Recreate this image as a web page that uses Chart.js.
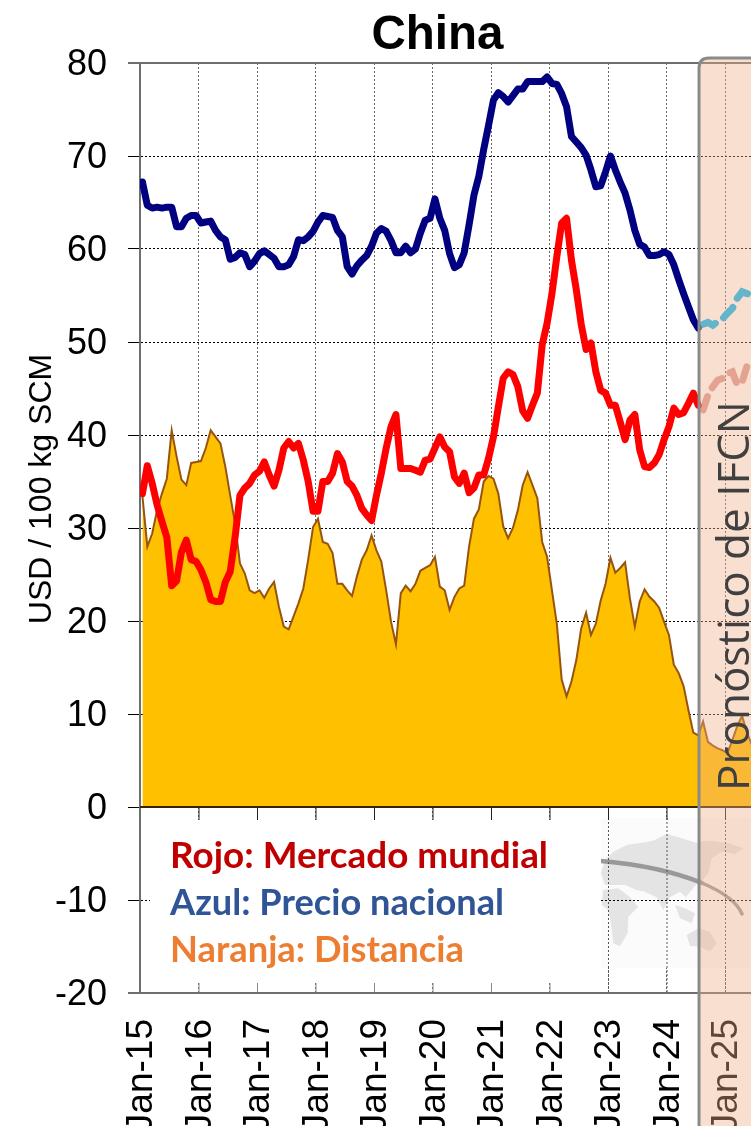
<!DOCTYPE html>
<html><head><meta charset="utf-8">
<style>html,body{margin:0;padding:0;background:#fff;overflow:hidden}canvas{display:block}</style>
<script src="https://cdn.jsdelivr.net/npm/chart.js@4"></script>
</head><body><canvas id="c" width="751" height="1126"></canvas>
<script>
const tickLabels=['Jan-15','Jan-16','Jan-17','Jan-18','Jan-19','Jan-20','Jan-21','Jan-22','Jan-23','Jan-24','Jan-25'];
const nationalPrice=[67.2,64.7,64.4,64.5,64.4,64.5,64.5,62.4,62.4,63.3,63.6,63.6,62.8,62.9,63.0,62.0,61.3,61.0,58.9,59.1,59.6,59.4,58.1,58.7,59.5,59.8,59.4,59.0,58.1,58.1,58.3,59.2,61.0,60.9,61.3,61.9,62.9,63.6,63.5,63.4,62.0,61.3,58.1,57.3,58.2,58.8,59.3,60.3,61.7,62.2,61.9,60.9,59.6,59.6,60.3,59.6,60.0,61.7,63.1,63.3,65.4,63.3,62.0,59.5,58.0,58.3,59.6,62.6,65.8,67.8,70.7,73.3,76.0,76.8,76.4,75.8,76.5,77.2,77.2,78.0,78.0,78.0,78.0,78.5,77.8,77.7,76.7,75.3,72.1,71.5,70.9,70.1,68.5,66.7,66.8,68.3,70.0,68.5,67.2,66.0,64.2,62.0,60.5,60.2,59.3,59.3,59.4,59.7,59.4,58.3,56.7,55.2,53.8,52.4,51.5];
const nationalForecast=[51.9,52.1,51.8,52.2,52.5,53.1,53.6,54.7,55.4,55.2,55.0];
const worldMarket=[33.7,36.7,34.8,32.5,30.7,29.0,23.8,24.3,27.4,28.7,26.6,26.4,25.5,24.2,22.3,22.1,22.1,24.2,25.3,29.0,33.5,34.3,34.8,35.7,36.1,37.1,35.7,34.5,36.2,38.6,39.3,38.6,39.1,37.3,35.0,31.8,31.8,35.0,35.0,35.9,38.0,37.1,35.0,34.5,33.5,32.1,31.4,30.8,33.5,35.9,38.6,40.9,42.2,36.4,36.4,36.4,36.2,36.0,37.3,37.4,38.6,39.8,38.7,38.2,35.5,34.8,35.9,33.8,34.3,35.7,35.7,37.5,39.8,43.0,46.1,46.8,46.5,45.2,42.6,41.8,43.2,44.5,49.7,52.0,55.2,59.2,62.8,63.3,58.8,55.6,51.9,49.2,49.9,46.8,44.8,44.5,43.2,43.2,41.4,39.5,41.6,42.2,38.4,36.6,36.5,37.0,37.9,39.5,40.9,42.9,42.2,42.4,43.4,44.5,43.2];
const worldForecast=[42.7,44.3,45.2,45.9,46.1,46.6,46.8,45.4,45.7,47.4,48.2];
const distance=[33.4,28.0,29.4,31.9,33.7,35.3,40.5,37.7,35.2,34.6,37.0,37.1,37.2,38.6,40.5,39.8,39.1,36.6,33.5,30.5,26.2,25.1,23.3,23.0,23.3,22.5,23.5,24.2,21.5,19.4,19.1,20.5,21.9,23.5,26.6,30.1,31.0,28.5,28.3,27.3,24.0,24.0,23.3,22.7,24.8,26.6,27.6,29.2,27.6,26.4,23.3,19.9,17.5,23.0,23.8,23.2,24.0,25.4,25.7,26.0,26.9,23.7,23.3,21.2,22.6,23.5,23.8,28.0,31.0,32.0,35.0,35.6,35.3,33.7,30.2,28.9,30.0,31.9,34.6,36.0,34.6,33.2,28.5,26.9,23.3,19.7,13.7,11.9,13.5,15.8,19.2,20.9,18.5,19.7,22.2,24.0,26.8,25.2,25.7,26.3,22.4,19.4,22.1,23.4,22.6,22.1,21.4,19.9,18.5,15.3,14.4,13.0,10.4,8.0,7.7,9.2,7.0,6.6,6.3,6.1,5.8,7.2,8.7,9.8,8.0,6.7];
const legendLines=[['Rojo: Mercado mundial','#C00000',378],['Azul: Precio nacional','#2F5597',334],['Naranja: Distancia','#ED7D31',294]];
const panelText='Pronóstico de IFCN';
const yAxisTitle='USD / 100 kg SCM';
const panelStart=114.67;

const pts=(a,start=0)=>a.map((v,i)=>({x:start+i+0.5,y:v}));

// outline shapes of the faint world map backdrop, relative to its box
const continents=[
 [[18,190],[30,150],[55,125],[95,105],[130,100],[175,92],[215,72],[260,85],[310,100],[310,215],[290,240],[272,262],[255,245],[225,262],[205,300],[185,262],[150,245],[125,240],[90,225],[60,225],[30,225]],
 [[25,240],[70,235],[105,262],[130,290],[100,320],[98,370],[75,408],[55,400],[48,340],[40,300],[20,285]],
 [[240,285],[270,295],[300,310],[290,340],[255,325]],
 [[275,375],[310,355],[345,365],[365,400],[345,425],[315,410],[285,408]],
 [[310,95],[345,92],[400,100],[445,115],[420,132],[380,125],[350,145],[340,190],[318,215],[310,215]]
];

const decor={
 id:'decor',
 afterLayout(c){c.titleBlock.left+=62;c.titleBlock.right+=62;},
 beforeDatasetsDraw(c){
  const g=c.ctx,x=c.scales.x,y=c.scales.y;
  g.save();
  // faint map backdrop
  g.fillStyle='#fbfbfb';g.fillRect(601,818,150,150);
  g.fillStyle='#e4e4e4';
  continents.forEach(p=>{g.beginPath();p.forEach((q,i)=>{const X=595+q[0]/3,Y=810+q[1]/3;i?g.lineTo(X,Y):g.moveTo(X,Y);});g.closePath();g.fill();});
  g.strokeStyle='#999';g.lineCap='round';
  g.lineWidth=4.5;g.beginPath();g.moveTo(601,861);g.quadraticCurveTo(660,866,702,883);g.stroke();
  g.lineWidth=3.5;g.beginPath();g.moveTo(702,883);g.quadraticCurveTo(735,897,742,914);g.stroke();
  // redraw grid over backdrop
  g.lineCap='butt';g.lineWidth=1;g.setLineDash([2,2]);g.strokeStyle='#555';
  x.ticks.forEach(t=>{const X=x.getPixelForValue(t.value);if(X>601){g.beginPath();g.moveTo(X+.5,818);g.lineTo(X+.5,y.bottom);g.stroke();}});
  g.strokeStyle='#000';g.beginPath();g.moveTo(601,y.getPixelForValue(-10)+.5);g.lineTo(751,y.getPixelForValue(-10)+.5);g.stroke();
  g.setLineDash([]);
  // white legend box
  g.fillStyle='#fff';g.fillRect(150,820,451,163);
  // short tick marks above and below the box
  x.ticks.forEach(t=>{const X=x.getPixelForValue(t.value);if(X<145)return;
   g.strokeStyle='#222';g.beginPath();g.moveTo(X+.5,y.getPixelForValue(0));g.lineTo(X+.5,820);g.stroke();
   if(X<601){g.strokeStyle='#888';g.beginPath();g.moveTo(X+.5,983);g.lineTo(X+.5,y.bottom);g.stroke();}});
  // grey frame lines at top and bottom
  g.strokeStyle='#6e6e6e';g.lineWidth=2;
  g.beginPath();g.moveTo(128,y.top);g.lineTo(751,y.top);g.moveTo(128,y.bottom);g.lineTo(751,y.bottom);g.stroke();
  // legend
  g.textBaseline='middle';g.textAlign='left';
  g.font='bold 37px Lato';
  legendLines.forEach((l,i)=>{g.fillStyle=l[1];g.fillText(l[0],170,856+i*47,l[2]);});
  // y axis title
  g.save();g.translate(42,489);g.rotate(-Math.PI/2);g.fillStyle='#000';g.font='32px "Liberation Sans"';g.textAlign='center';g.textBaseline='middle';g.fillText(yAxisTitle,0,0);g.restore();
  g.restore();
 },
 afterDatasetsDraw(c){
  const g=c.ctx,x=c.scales.x,y=c.scales.y,left=x.getPixelForValue(panelStart),top=58,r=10;
  g.save();
  // zero line
  g.strokeStyle='#3a2400';g.lineWidth=2;g.beginPath();g.moveTo(x.left,y.getPixelForValue(0));g.lineTo(751,y.getPixelForValue(0));g.stroke();
  g.beginPath();g.moveTo(left,1126);g.lineTo(left,top+r);g.quadraticCurveTo(left,top,left+r,top);g.lineTo(751,top);g.lineTo(751,1126);g.closePath();
  g.fillStyle='rgba(240,175,135,0.4)';g.fill();
  g.beginPath();g.moveTo(left,1126);g.lineTo(left,top+r);g.quadraticCurveTo(left,top,left+r,top);g.lineTo(751,top);
  g.strokeStyle='#8a8a8a';g.lineWidth=3;g.stroke();
  g.translate(736,596);g.rotate(-Math.PI/2);
  g.fillStyle='#404040';g.font='44px "Open Sans"';g.textAlign='center';g.textBaseline='middle';
  g.fillText(panelText,0,0);
  g.restore();
 }
};

new Chart(document.getElementById('c'),{
 type:'line',
 plugins:[decor],
 data:{datasets:[
  {label:'Precio nacional',data:pts(nationalPrice),borderColor:'#000080',borderWidth:7,pointRadius:0,fill:false,order:1,tension:0,borderJoinStyle:'round',borderCapStyle:'round'},
  {label:'Precio nacional (pronóstico)',data:pts(nationalForecast,115),borderColor:'rgb(5,185,245)',borderWidth:7,borderDash:[14,10],pointRadius:0,fill:false,order:1,borderCapStyle:'round'},
  {label:'Mercado mundial',data:pts(worldMarket),borderColor:'#FF0000',borderWidth:7,pointRadius:0,fill:false,order:2,tension:0,borderJoinStyle:'round',borderCapStyle:'round'},
  {label:'Mercado mundial (pronóstico)',data:pts(worldForecast,115),borderColor:'rgb(220,155,152)',borderWidth:7,borderDash:[14,10],pointRadius:0,fill:false,order:2,borderCapStyle:'round'},
  {label:'Distancia',data:pts(distance),borderColor:'#96540F',borderWidth:2,backgroundColor:'#FFC000',pointRadius:0,fill:'origin',order:3,tension:0}
 ]},
 options:{
  responsive:false,animation:false,
  layout:{padding:0},
  plugins:{legend:{display:false},tooltip:{enabled:false},
   title:{display:true,text:'China',color:'#000',font:{family:'"Liberation Sans"',size:47.5,weight:'bold',lineHeight:1},padding:{top:11.75,bottom:3.75}}},
  scales:{
   x:{type:'linear',min:0,max:125.33,
    afterFit(s){s.height=133;s.paddingLeft=0;s.paddingRight=0;},
    grid:{color:'#666',lineWidth:1,tickLength:0},
    border:{color:'#6e6e6e',width:2,dash:[2,2]},
    ticks:{stepSize:12,includeBounds:false,autoSkip:false,minRotation:90,maxRotation:90,padding:26,labelOffset:2,color:'#000',
     font:{family:'"Liberation Sans"',size:37},
     callback:v=>tickLabels[v/12]}},
   y:{min:-20,max:80,
    afterFit(s){s.width=140;s.paddingTop=0;s.paddingBottom=0;},
    border:{color:'#6e6e6e',width:2,dash:[2,2]},
    grid:{color:'#000',lineWidth:1,tickLength:12,tickColor:'#000'},
    ticks:{stepSize:10,padding:21,labelOffset:2,color:'#000',font:{family:'"Liberation Sans"',size:36}}}
  }
 }
});
</script></body></html>
